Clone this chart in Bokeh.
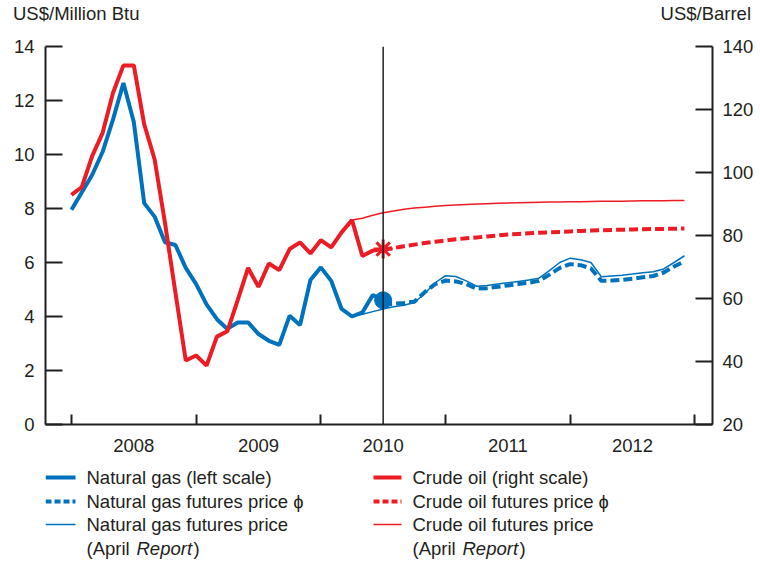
from bokeh.plotting import figure
from bokeh.models import Range1d, LinearAxis, FixedTicker, Span, Div
from bokeh.layouts import column
from bokeh.embed import file_html
from bokeh.resources import INLINE
from bokeh.core.properties import value

# ---------------- data (months since Jan 2008) ----------------
year_labels = ["2008", "2009", "2010", "2011", "2012"]
year_mid_ticks = [6, 18, 30, 42, 54]
year_bound_ticks = [0, 12, 24, 36, 48, 60]
report_month = 30  # July 2010

hist_months = list(range(0, 31))
gas_hist = [7.95, 8.6, 9.25, 10.1, 11.3, 12.65, 11.2, 8.2, 7.7, 6.75, 6.65, 5.8,
            5.2, 4.45, 3.9, 3.54, 3.78, 3.78, 3.35, 3.1, 2.95, 4.03, 3.68, 5.35,
            5.82, 5.32, 4.28, 4.0, 4.15, 4.8, 4.6]
oil_hist = [92.9, 95.4, 105.3, 112.6, 125.3, 134.0, 134.0, 115.3, 104.2, 84.0, 62.0, 40.3,
            41.9, 38.7, 47.9, 49.6, 59.5, 69.7, 63.7, 71.1, 69.0, 75.7, 77.8, 74.3,
            78.5, 76.2, 81.0, 84.9, 73.5, 75.2, 75.7]

fut_months = list(range(30, 60))
gas_fut = [4.45, 4.47, 4.5, 4.55, 4.9, 5.2, 5.33, 5.3, 5.2, 5.03,
           5.05, 5.1, 5.15, 5.2, 5.25, 5.32, 5.55, 5.8, 5.94, 5.9,
           5.78, 5.32, 5.33, 5.36, 5.4, 5.45, 5.5, 5.63, 5.85, 6.04]
oil_fut = [75.5, 76.0, 76.6, 77.1, 77.6, 78.0, 78.4, 78.8, 79.1, 79.4,
           79.7, 80.0, 80.3, 80.5, 80.7, 80.9, 81.0, 81.15, 81.3, 81.45,
           81.55, 81.65, 81.75, 81.85, 81.9, 82.0, 82.05, 82.1, 82.15, 82.2]

apr_months = list(range(27, 60))
gas_apr = [4.0, 4.08, 4.18, 4.28, 4.36, 4.42, 4.52, 4.85, 5.25, 5.51,
           5.48, 5.32, 5.12, 5.15, 5.2, 5.25, 5.3, 5.35, 5.42, 5.7,
           6.0, 6.16, 6.1, 6.0, 5.47, 5.5, 5.53, 5.57, 5.62, 5.66,
           5.76, 6.0, 6.25]
oil_apr = [84.9, 85.5, 86.4, 87.2, 87.8, 88.3, 88.7, 89.0, 89.3, 89.5,
           89.7, 89.85, 90.0, 90.1, 90.2, 90.3, 90.4, 90.5, 90.55, 90.6,
           90.65, 90.7, 90.75, 90.8, 90.85, 90.9, 90.9, 90.95, 91.0, 91.0,
           91.05, 91.1, 91.1]

left_ticks = [0, 2, 4, 6, 8, 10, 12, 14]
right_ticks = [20, 40, 60, 80, 100, 120, 140]

# ---------------- style ----------------
BLUE = "#0071BC"
RED = "#ED1C24"
INK = "#231F20"
FONT = "Liberation Sans"
FS = "18.5px"

W = 760
H_HEAD = 30
H_MAIN = 432
H_LEG = 100
BL, BR = 45, 48

# ---------------- header (axis unit titles) ----------------
head = Div(width=W, height=H_HEAD, margin=0, text=(
    f'<div style="position:relative;width:{W}px;height:{H_HEAD}px;'
    f'font-family:\'{FONT}\';font-size:{FS};line-height:{FS};color:{INK};">'
    '<span style="position:absolute;left:13px;top:5px;white-space:nowrap;">US$/Million Btu</span>'
    '<span style="position:absolute;right:9px;top:5px;white-space:nowrap;">US$/Barrel</span>'
    '</div>'))

# ---------------- main chart ----------------
p = figure(width=W, height=H_MAIN, x_range=Range1d(-2.5, 61.7), y_range=Range1d(0, 14),
           output_backend="svg", toolbar_location=None,
           min_border_left=BL, min_border_right=BR, min_border_top=16,
           min_border_bottom=38)
p.extra_y_ranges = {"oil": Range1d(20, 140)}
p.grid.visible = False
p.outline_line_color = None

xa = p.xaxis[0]
xa.ticker = FixedTicker(ticks=year_mid_ticks, minor_ticks=year_bound_ticks)
xa.major_label_overrides = {t: l for t, l in zip(year_mid_ticks, year_labels)}
xa.major_tick_line_color = None
xa.major_tick_in = 0
xa.major_tick_out = 0
xa.minor_tick_in = 10
xa.minor_tick_out = 0
xa.minor_tick_line_width = 2
xa.minor_tick_line_color = INK
xa.axis_line_width = 2
xa.axis_line_color = INK
xa.major_label_standoff = 14

ya = p.yaxis[0]
ya.ticker = FixedTicker(ticks=left_ticks)
ya.major_tick_in = 17
ya.major_tick_out = 0
ya.minor_tick_line_color = None
ya.major_label_standoff = 11

ra = LinearAxis(y_range_name="oil", ticker=FixedTicker(ticks=right_ticks))
ra.major_tick_in = 17
ra.major_tick_out = 0
ra.minor_tick_line_color = None
ra.major_label_standoff = 10
p.add_layout(ra, "right")

for ax in (ya, ra):
    ax.axis_line_width = 2
    ax.axis_line_color = INK
    ax.major_tick_line_width = 2
    ax.major_tick_line_color = INK
for ax in (xa, ya, ra):
    ax.major_label_text_font = FONT
    ax.major_label_text_font_size = FS
    ax.major_label_text_color = INK

p.add_layout(Span(location=report_month, dimension="height", line_color=INK, line_width=1.5))

p.line(apr_months, gas_apr, line_color=BLUE, line_width=1.5)
p.line(apr_months, oil_apr, line_color=RED, line_width=1.5, y_range_name="oil")
p.line(fut_months, gas_fut, line_color=BLUE, line_width=4, line_dash="9 4")
p.line(fut_months, oil_fut, line_color=RED, line_width=4, line_dash="9 4", y_range_name="oil")
p.line(hist_months, gas_hist, line_color=BLUE, line_width=4)
p.line(hist_months, oil_hist, line_color=RED, line_width=4, y_range_name="oil")
p.scatter([hist_months[-1]], [gas_hist[-1]], size=17, color=BLUE)
p.scatter([hist_months[-1]], [oil_hist[-1]], marker="asterisk", size=19,
          line_color=RED, line_width=3, y_range_name="oil")

# ---------------- legend panel ----------------
lg = figure(width=W, height=H_LEG, x_range=Range1d(BL, W - BR), y_range=Range1d(H_LEG, 0),
            output_backend="svg", toolbar_location=None,
            x_axis_location=None, y_axis_location=None,
            min_border_left=BL, min_border_right=BR, min_border_top=0, min_border_bottom=0)
lg.grid.visible = False
lg.outline_line_color = None

rows = [15, 39, 62, 86]
cols = [(45, 75, 86), (373, 401, 412)]
styles = [dict(line_width=4), dict(line_width=4, line_dash="6 3"), dict(line_width=1.5)]
names = [["Natural gas (left scale)", "Natural gas futures price \u0278", "Natural gas futures price"],
         ["Crude oil (right scale)", "Crude oil futures price \u0278", "Crude oil futures price"]]
colors = [BLUE, RED]
for ci, (sx0, sx1, tx) in enumerate(cols):
    for ri in range(3):
        lg.segment(x0=[sx0], y0=[rows[ri]], x1=[sx1], y1=[rows[ri]],
                   line_color=colors[ci], **styles[ri])
        lg.text(x=[tx], y=[rows[ri]], text=[names[ci][ri]], text_font=value(FONT),
                text_font_size=FS, text_color=INK, text_baseline="middle")
    lg.text(x=[tx], y=[rows[3]], text=["(April"], text_font=value(FONT),
            text_font_size=FS, text_color=INK, text_baseline="middle")
    lg.text(x=[tx + 50], y=[rows[3]], text=["Report"], text_font=value(FONT),
            text_font_size=FS, text_font_style="italic", text_color=INK, text_baseline="middle")
    lg.text(x=[tx + 107], y=[rows[3]], text=[")"], text_font=value(FONT),
            text_font_size=FS, text_color=INK, text_baseline="middle")

layout = column(head, p, lg, spacing=0)
open("out.html", "w").write(file_html(layout, INLINE))
